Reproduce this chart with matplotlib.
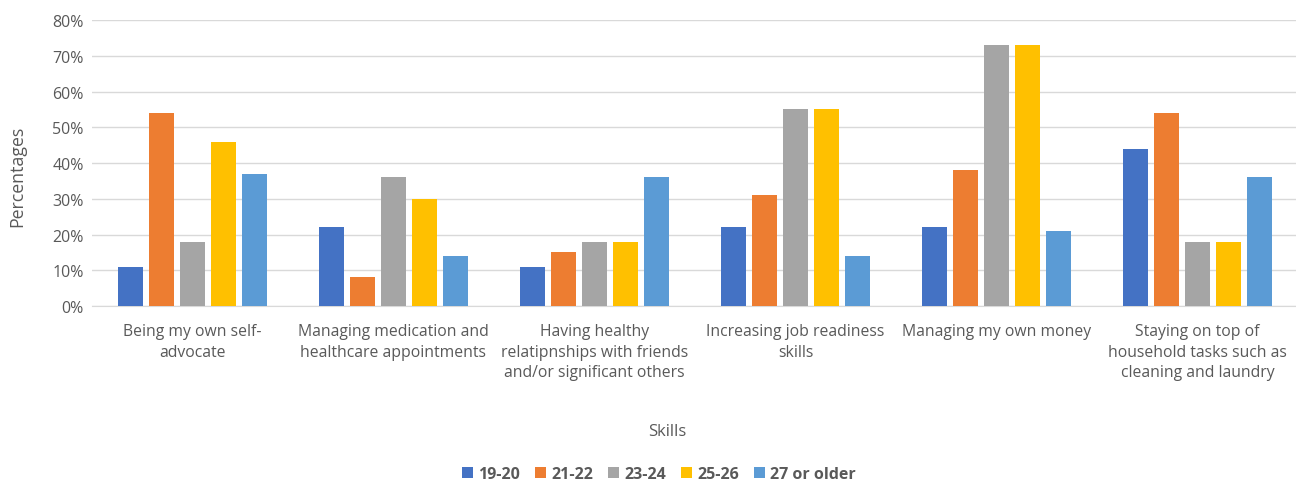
import matplotlib
matplotlib.use("Agg")
import matplotlib.pyplot as plt
import numpy as np
from matplotlib.ticker import PercentFormatter

categories = [
    "Being my own self-\nadvocate",
    "Managing medication and\nhealthcare appointments",
    "Having healthy\nrelatipnships with friends\nand/or significant others",
    "Increasing job readiness\nskills",
    "Managing my own money",
    "Staying on top of\nhousehold tasks such as\ncleaning and laundry",
]
series_names = ["19-20", "21-22", "23-24", "25-26", "27 or older"]
values_19_20 = [11, 22, 11, 22, 22, 44]
values_21_22 = [54, 8, 15, 31, 38, 54]
values_23_24 = [18, 36, 18, 55, 73, 18]
values_25_26 = [46, 30, 18, 55, 73, 18]
values_27_plus = [37, 14, 36, 14, 21, 36]
series_values = [values_19_20, values_21_22, values_23_24, values_25_26, values_27_plus]
colors = ["#4472C4", "#ED7D31", "#A5A5A5", "#FFC000", "#5B9BD5"]

plt.rcParams['font.family'] = ['Open Sans', 'DejaVu Sans']
text_color = "#595959"

W, H = 1296, 489
fig = plt.figure(figsize=(W / 100, H / 100), dpi=100)
ax = fig.add_axes([92 / W, 0.372, 1206 / W, 0.585])

x = np.arange(len(categories))
bar_w = 0.122
step = 0.154
for i, (name, vals, c) in enumerate(zip(series_names, series_values, colors)):
    ax.bar(x + (i - 2) * step, vals, width=bar_w, color=c, label=name, zorder=3)

ax.set_xlim(-0.5, len(categories) - 0.5)
ax.set_ylim(0, 80)
ax.set_yticks(np.arange(0, 81, 10))
ax.yaxis.set_major_formatter(PercentFormatter(decimals=0))
ax.grid(axis='y', color="#D9D9D9", linewidth=1, zorder=0)
for s in ["top", "right", "left"]:
    ax.spines[s].set_visible(False)
ax.spines["bottom"].set_color("#D9D9D9")
ax.tick_params(axis='y', length=0, labelsize=11.5, colors=text_color, pad=6)
ax.tick_params(axis='x', length=0, labelsize=11.3, colors=text_color, pad=12)
ax.set_xticks(x)
ax.set_xticklabels(categories, linespacing=1.4, va='top')

# axis titles
fig.text(17.5 / W, 1 - 176 / H, "Percentages", rotation=90, ha='center', va='center',
         fontsize=12.8, color=text_color)
fig.text(667 / W, 1 - 432 / H, "Skills", ha='center', va='center',
         fontsize=12, color=text_color)

leg = fig.legend(loc='center', bbox_to_anchor=(659 / W, 1 - 475 / H), ncol=5, frameon=False,
                 handlelength=0.7, handleheight=0.7, handletextpad=0.3, columnspacing=0.95,
                 prop={'weight': 'bold', 'size': 11.5})
for t in leg.get_texts():
    t.set_color(text_color)

fig.savefig("out.png", dpi=100, facecolor="white")
